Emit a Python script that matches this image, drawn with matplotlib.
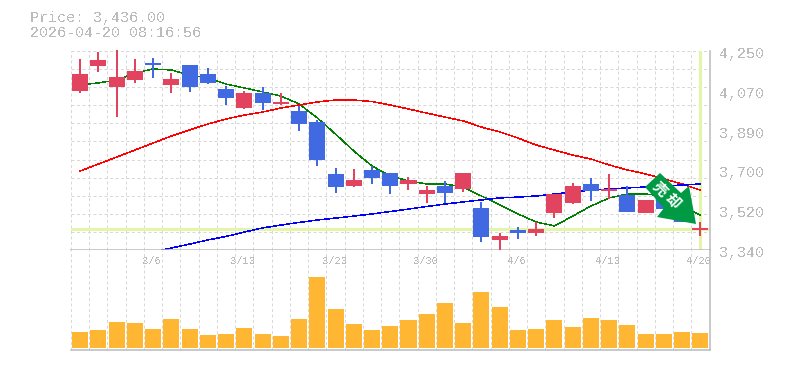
import numpy as np
import matplotlib
matplotlib.use("Agg")
import matplotlib.pyplot as plt
from matplotlib.patches import Polygon

plt.rcParams['font.family'] = ['Liberation Mono', 'Noto Sans CJK JP', 'DejaVu Sans']
plt.rcParams['text.antialiased'] = False

# daily candles
opens = [4067, 4181, 4085, 4117, 4195, 4095, 4186, 4145, 4076, 3989, 4058, 4008, 3976, 3925, 3688, 3633, 3706, 3692,
         3642, 3596, 3633, 3619, 3532, 3386, 3431, 3418, 3509, 3555, 3642, 3610, 3592, 3509, 3592, 3569, 3431]
highs = [4213, 4245, 4255, 4213, 4218, 4149, 4186, 4172, 4090, 4067, 4085, 4058, 3999, 3934, 3715, 3710, 3724, 3692,
         3674, 3633, 3656, 3692, 3560, 3418, 3445, 3468, 3596, 3646, 3669, 3688, 3633, 3569, 3592, 3569, 3468]
lows = [4058, 4154, 3948, 4104, 4127, 4058, 4063, 4099, 4003, 3985, 3980, 4003, 3884, 3724, 3601, 3628, 3642, 3596,
        3614, 3555, 3555, 3605, 3377, 3340, 3390, 3404, 3486, 3550, 3564, 3573, 3514, 3509, 3527, 3466, 3404]
closes = [4145, 4209, 4131, 4159, 4186, 4122, 4085, 4104, 4035, 4058, 4012, 4017, 3916, 3752, 3628, 3660, 3669, 3633,
          3660, 3614, 3601, 3692, 3399, 3404, 3418, 3436, 3596, 3633, 3610, 3619, 3514, 3569, 3527, 3466, 3441]

# moving averages
ma_short = [4095, 4104, 4117, 4149, 4168, 4163, 4140, 4127, 4099, 4081, 4063, 4044, 4008, 3944, 3870, 3793, 3724, 3678,
            3656, 3642, 3642, 3628, 3587, 3546, 3505, 3468, 3450, 3495, 3541, 3578, 3596, 3596, 3587, 3537, 3500]
ma_mid = [3701, 3733, 3765, 3797, 3829, 3861, 3889, 3916, 3939, 3957, 3971, 3989, 4003, 4017, 4026, 4026, 4019, 4003,
          3985, 3966, 3948, 3930, 3902, 3880, 3852, 3820, 3797, 3774, 3756, 3729, 3706, 3688, 3665, 3642, 3614]
ma_long = [np.nan, np.nan, np.nan, np.nan, 3331, 3349, 3367, 3386, 3402, 3422, 3441, 3454, 3466, 3477, 3486, 3495, 3505,
           3516, 3527, 3539, 3550, 3560, 3569, 3578, 3582, 3587, 3596, 3605, 3614, 3619, 3624, 3628, 3633, 3637, 3642]

volume = [16, 18, 26, 25, 19, 29, 19, 13, 14, 20, 14, 12, 29, 71, 39, 24, 18, 22,
          28, 34, 45, 25, 56, 41, 18, 19, 28, 21, 30, 28, 23, 14, 14, 16, 15]

price_ticks = [4250, 4068, 3886, 3704, 3522, 3340]
price_labels = ['4,250', '4,070', '3,890', '3,700', '3,520', '3,340']
date_pos = [4, 9, 14, 19, 24, 29, 34]
date_labels = ['3/6', '3/13', '3/23', '3/30', '4/6', '4/13', '4/20']
last_price = 3436

W, H = 785, 370
RED = '#e2445f'
BLUE = '#4169e1'
GREY = '#bbbbbb'
PALE = '#e3f5a8'


def px(x, y):
    # picture pixels to figure fractions
    return x / W, 1 - y / H


fig = plt.figure(figsize=(W / 100, H / 100), dpi=100)
left, right = 71, 709.5
ax = fig.add_axes([left / W, 1 - 250 / H, (right - left) / W, 199 / H])
ax2 = fig.add_axes([left / W, 1 - 349.5 / H, (right - left) / W, 99.5 / H])

idx = np.arange(len(closes))
slots = np.arange(-0.5, 35, 1)

for a in (ax, ax2):
    a.set_xlim(-0.5, 34.5)
    a.set_xticks(slots)
    a.tick_params(length=0, labelbottom=False, labelleft=False)
    a.grid(True, color='#d8d8d8', lw=0.72, ls=(0, (3, 2.5)))
    a.set_axisbelow(True)
    a.spines['left'].set_visible(False)
    a.spines['top'].set_visible(False)
    for s in ('bottom', 'right'):
        a.spines[s].set_color(GREY)
        a.spines[s].set_linewidth(1.1)

ax.set_ylim(3340, 4250)
ax.set_yticks(np.linspace(3340, 4250, 12))
ax2.set_ylim(-1.5, 98)
ax2.set_yticks([])

# last price cross hair
ax.axhline(last_price, color=PALE, lw=2.2, zorder=1.5)
ax.axvline(idx[-1], color=PALE, lw=2.2, zorder=1.5)

ax.plot(idx, ma_short, color='#008000', lw=0.3, antialiased=False, zorder=2)
ax.plot(idx, ma_mid, color='#ff0000', lw=0.36, antialiased=False, zorder=2)
ax.plot(idx, ma_long, color='#0000ff', lw=0.36, antialiased=False, zorder=2)

colors = [RED if c >= o else BLUE for o, c in zip(opens, closes)]
bottoms = [min(o, c) for o, c in zip(opens, closes)]
heights = [abs(c - o) for o, c in zip(opens, closes)]
ax.vlines(idx, lows, highs, colors=colors, lw=1.1, antialiased=False, zorder=3, clip_on=False)
ax.bar(idx, heights, bottom=bottoms, width=0.878, color=colors, antialiased=False, zorder=4)

ax2.bar(idx, volume, width=0.878, color='#ffb733', antialiased=False, zorder=3)

for val, lab in zip(price_ticks, price_labels):
    ax.annotate(lab, (1, val), xycoords=ax.get_yaxis_transform(), xytext=(10, -3), textcoords='offset pixels',
                color=GREY, fontsize=10.8, va='center', ha='left', annotation_clip=False)
for pos, lab in zip(date_pos, date_labels):
    ax2.annotate(lab, (pos, 1), xycoords=ax2.get_xaxis_transform(), xytext=(-1, -11), textcoords='offset pixels',
                 color=GREY, fontsize=7.6, va='center', ha='center', annotation_clip=False)

fig.text(*px(30, 18), 'Price: 3,436.00', color=GREY, fontsize=10.8, va='center', ha='left')
fig.text(*px(30, 33), '2026-04-20 08:16:56', color=GREY, fontsize=10.8, va='center', ha='left')

# signal arrow over the last candles
arrow = [(645, 187), (660, 173), (681, 193), (689, 186), (696, 224), (657, 217), (664, 208)]
fig.add_artist(Polygon([px(*p) for p in arrow], closed=True, transform=fig.transFigure,
                       facecolor='#009944', edgecolor='none', zorder=10))
for (x, y), ch in zip([(660, 189), (673, 201)], '売却'):
    fig.text(*px(x, y), ch, color='white', fontsize=10.5, fontweight='bold', rotation=-45, rotation_mode='anchor',
             va='center', ha='center', family=['Noto Sans CJK JP', 'DejaVu Sans'], antialiased=True, zorder=11)

fig.savefig('out.png', dpi=100)
